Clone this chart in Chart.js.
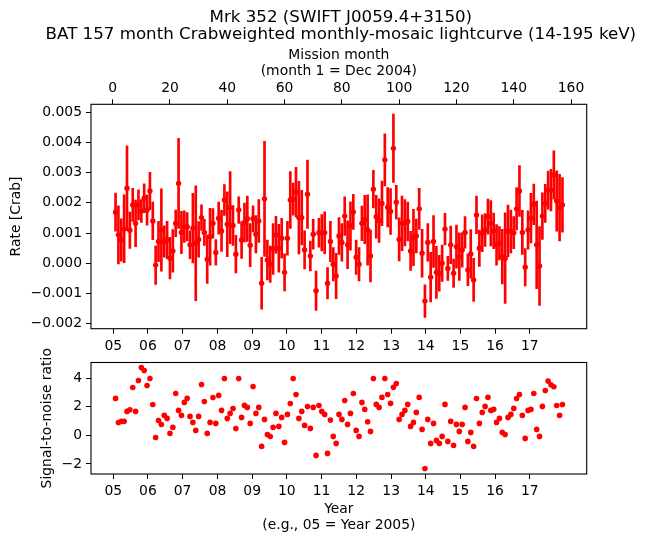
<!DOCTYPE html>
<html>
<head>
<meta charset="utf-8">
<script src="https://cdn.jsdelivr.net/npm/chart.js@4.4.1/dist/chart.umd.min.js"></script>
<style>
  body { margin: 0; background: #ffffff; }
  #wrap { position: relative; width: 646px; height: 543px; }
  #wrap canvas { position: absolute; left: 0; top: 0; }
</style>
</head>
<body>
<div id="wrap">
  <canvas id="rateChart" width="646" height="543"></canvas>
  <canvas id="snrChart" width="646" height="543"></canvas>
</div>
<script>
// mission months 1..157 (month 1 = Dec 2004)
const months = Array.from({ length: 157 }, (_, i) => i + 1);

// rate in units of 1e-3 Crab
const rateMilli = [
  1.69, 0.94, 0.77, 1.13, 2.48, 1.09, 1.93, 1.32, 1.93, 1.73,
  2.15, 1.76, 2.39, 1.40, -0.06, 0.72, 1.10, 0.72, 0.77, 0.17,
  0.41, 1.32, 2.64, 1.02, 1.21, 1.21, 0.61, 1.16, 0.66, 0.79,
  1.51, 1.02, 0.13, 0.88, 1.32, 0.36, 1.49, 1.07, 2.09, 1.29,
  1.84, 1.25, 0.30, 1.76, 0.77, 1.35, 1.47, 0.60, 1.47, 0.96,
  1.40, -0.66, 2.13, 0.11, -0.03, 0.47, 0.94, 0.50, 0.83, -0.30,
  0.83, 2.09, 2.12, 2.35, 1.51, 1.51, 0.44, 2.28, 0.24, 0.96,
  -0.91, 1.01, 1.01, 1.01, -0.66, 0.72, -0.03, -0.42, 0.90, 0.69,
  1.56, 0.61, 1.23, 1.70, 0.20, -0.03, 1.32, 1.45, 1.10, 0.24,
  2.45, 1.54, 1.41, 1.98, 3.42, 1.85, 1.71, 3.80, 2.02, 0.79,
  1.32, 1.34, 1.38, 0.41, 0.85, 0.90, 1.80, 0.33, -1.25, 0.69,
  -0.46, 0.72, -0.30, -0.33, 0.00, 1.13, -0.17, 0.61, -0.33, 0.55,
  0.22, 0.44, 1.02, -0.22, 0.31, -0.55, 1.60, 0.50, 0.99, 1.10,
  1.54, 1.32, 1.07, 0.61, 0.66, 0.22, 0.17, 1.07, 1.05, 1.01,
  1.80, 2.39, 1.02, -0.13, 1.10, 1.49, 1.95, 0.61, -0.09, 1.56,
  1.98, 2.42, 2.42, 2.92, 2.06, 1.84, 1.93
];

// 1-sigma error in units of 1e-3 Crab
const errMilli = [
  0.63, 0.96, 0.70, 1.13, 1.40, 0.60, 0.55, 0.77, 0.50, 0.38,
  0.48, 0.50, 0.62, 0.62, 0.64, 0.67, 1.36, 0.52, 0.62, 0.69,
  0.70, 0.44, 1.49, 0.70, 0.52, 0.47, 0.46, 1.15, 1.90, 0.59,
  0.42, 0.43, 0.80, 0.94, 0.49, 0.42, 0.53, 0.68, 0.51, 1.07,
  1.19, 0.66, 0.62, 0.44, 0.61, 0.64, 0.75, 0.71, 0.43, 0.62,
  0.71, 0.86, 1.90, 0.66, 0.60, 0.84, 0.61, 0.79, 0.66, 0.61,
  0.56, 0.94, 0.53, 0.82, 1.20, 0.90, 0.63, 1.13, 0.49, 0.49,
  0.65, 0.48, 0.60, 0.69, 0.52, 0.67, 0.55, 0.75, 0.61, 0.62,
  0.64, 0.79, 0.80, 0.58, 0.57, 0.55, 0.57, 0.80, 1.16, 0.86,
  0.62, 0.71, 0.72, 0.74, 0.86, 0.65, 0.76, 1.13, 0.56, 0.71,
  0.90, 0.77, 0.64, 0.65, 0.93, 0.56, 0.68, 0.79, 0.54, 0.62,
  0.82, 0.86, 0.86, 0.59, 0.60, 0.52, 0.40, 0.62, 0.47, 0.71,
  0.79, 0.57, 0.52, 0.52, 0.80, 0.71, 0.62, 0.60, 0.61, 0.54,
  0.58, 0.75, 0.59, 0.67, 0.55, 0.90, 1.50, 0.85, 0.71, 0.53,
  0.70, 0.84, 0.73, 0.62, 0.63, 0.82, 0.67, 1.45, 1.30, 0.77,
  0.63, 0.63, 0.69, 0.80, 1.00, 1.10, 0.90
];

// signal-to-noise ratio
const snr = [
  2.59, 0.90, 0.98, 0.98, 1.68, 1.79, 3.35, 1.68, 3.84, 4.75,
  4.54, 3.49, 3.98, 2.16, -0.15, 1.04, 0.76, 1.40, 1.19, 0.14,
  0.56, 2.93, 1.75, 1.40, 2.31, 2.59, 1.33, 0.91, 0.35, 1.33,
  3.56, 2.37, 0.14, 0.91, 2.65, 0.84, 2.80, 1.75, 3.98, 1.19,
  1.54, 1.88, 0.48, 3.98, 1.26, 2.10, 1.96, 0.84, 3.42, 1.54,
  1.96, -0.77, 1.12, 0.06, -0.08, 0.56, 1.54, 0.63, 1.26, -0.49,
  1.47, 2.23, 3.98, 2.86, 1.19, 1.68, 0.70, 2.02, 0.49, 1.96,
  -1.40, 2.09, 1.68, 1.47, -1.26, 1.07, -0.07, -0.56, 1.47, 1.12,
  2.44, 0.77, 1.54, 2.93, 0.35, -0.07, 2.31, 1.82, 0.95, 0.28,
  3.98, 2.17, 1.96, 2.66, 3.98, 2.86, 2.24, 3.36, 3.63, 1.12,
  1.47, 1.75, 2.17, 0.63, 0.91, 1.61, 2.66, 0.42, -2.31, 1.12,
  -0.56, 0.84, -0.35, -0.56, -0.07, 2.17, -0.42, 0.98, -0.70, 0.77,
  0.28, 0.77, 1.96, -0.42, 0.21, -0.77, 2.58, 0.84, 1.61, 2.03,
  2.66, 1.75, 1.82, 0.91, 1.19, 0.21, 0.06, 1.26, 1.47, 1.89,
  2.58, 2.86, 1.40, -0.21, 1.75, 1.82, 2.93, 0.42, -0.07, 2.03,
  3.14, 3.80, 3.54, 3.40, 2.09, 1.40, 2.16
];

// tick labels
const rateTicks = [-0.002, -0.001, 0, 0.001, 0.002, 0.003, 0.004, 0.005];
const snrTicks = [-2, 0, 2, 4];
const monthTicks = [0, 20, 40, 60, 80, 100, 120, 140, 160];
const yearLabels = ['05', '06', '07', '08', '09', '10', '11', '12', '13', '14', '15', '16', '17'];
const yearTickMonths = [0.2, 12.3, 24.4, 36.6, 48.7, 60.8, 72.9, 85.0, 97.2, 109.3, 121.4, 133.5, 145.6];

const RED = '#ff0000';
const FONT = 'DejaVu Sans';
const tickFont = { family: FONT, size: 13.9 };
const X_MIN = -7.57;
const X_MAX = 165.47;

function minusSign(s) {
	return s.replace('-', '\u2212');
}

function fixedTicks(values) {
	return function (scale) {
		scale.ticks = values.map(v => ({ value: v }));
	};
}

function tickGrid() {
	return {
		display: true,
		drawOnChartArea: false,
		drawTicks: true,
		tickLength: 5,
		tickWidth: 1,
		tickColor: '#000000'
	};
}

const framePlugin = {
	id: 'frame',
	afterDraw(chart) {
		const a = chart.chartArea;
		const ctx = chart.ctx;
		ctx.save();
		ctx.strokeStyle = '#000000';
		ctx.lineWidth = 1.1;
		ctx.strokeRect(a.left, a.top, a.right - a.left, a.bottom - a.top);
		ctx.restore();
	}
};

function drawText(ctx, text, x, y, size, rotate) {
	ctx.save();
	ctx.translate(x, y);
	if (rotate) ctx.rotate(-Math.PI / 2);
	ctx.font = size + 'px "' + FONT + '"';
	ctx.fillStyle = '#000000';
	ctx.textAlign = 'center';
	ctx.textBaseline = 'middle';
	ctx.fillText(text, 0, 0);
	ctx.restore();
}

const rateLabels = {
	id: 'rateLabels',
	afterDraw(chart) {
		const ctx = chart.ctx;
		const cx = (chart.chartArea.left + chart.chartArea.right) / 2;
		drawText(ctx, 'Mrk 352 (SWIFT J0059.4+3150)', cx + 2, 17.5, 16.67);
		drawText(ctx, 'BAT 157 month Crabweighted monthly-mosaic lightcurve (14-195 keV)', cx + 2, 34.5, 16.67);
		drawText(ctx, 'Mission month', cx, 55, 13.9);
		drawText(ctx, '(month 1 = Dec 2004)', cx, 71.5, 13.9);
		drawText(ctx, 'Rate [Crab]', 16, (chart.chartArea.top + chart.chartArea.bottom) / 2, 13.9, true);
	}
};

const snrLabels = {
	id: 'snrLabels',
	afterDraw(chart) {
		const ctx = chart.ctx;
		const cx = (chart.chartArea.left + chart.chartArea.right) / 2;
		drawText(ctx, 'Signal-to-noise ratio', 47, (chart.chartArea.top + chart.chartArea.bottom) / 2, 13.9, true);
		drawText(ctx, 'Year', cx, 509, 13.9);
		drawText(ctx, '(e.g., 05 = Year 2005)', cx, 525.5, 13.9);
	}
};

const yearAxis = {
	type: 'linear',
	position: 'bottom',
	min: X_MIN,
	max: X_MAX,
	offset: false,
	afterBuildTicks: fixedTicks(yearTickMonths),
	ticks: {
		autoSkip: false,
		maxRotation: 0,
		padding: 4,
		color: '#000000',
		font: tickFont,
		callback: function (value) {
			return yearLabels[yearTickMonths.indexOf(value)];
		}
	},
	grid: Object.assign(tickGrid(), { offset: false }),
	border: { display: false }
};

new Chart(document.getElementById('rateChart'), {
	type: 'scatter',
	data: {
		datasets: [{
			label: 'Rate',
			data: months.map((m, i) => ({ x: m, y: rateMilli[i] * 1e-3 })),
			backgroundColor: RED,
			borderWidth: 0,
			pointRadius: 2.7,
			pointHoverRadius: 2.7
		}, {
			type: 'bar',
			label: 'Error',
			data: months.map((m, i) => ({
				x: m,
				y: [(rateMilli[i] - errMilli[i]) * 1e-3, (rateMilli[i] + errMilli[i]) * 1e-3]
			})),
			backgroundColor: RED,
			borderWidth: 0,
			barThickness: 2,
			grouped: false
		}]
	},
	options: {
		responsive: false,
		animation: false,
		devicePixelRatio: 1,
		layout: { padding: { left: 0, right: 59.3, top: 0, bottom: 0 } },
		plugins: {
			legend: { display: false },
			tooltip: { enabled: false }
		},
		scales: {
			x: Object.assign({}, yearAxis, {
				afterFit: function (scale) { scale.height = 543 - 328.7; }
			}),
			xTop: {
				type: 'linear',
				position: 'top',
				min: X_MIN,
				max: X_MAX,
				afterBuildTicks: fixedTicks(monthTicks),
				afterFit: function (scale) { scale.height = 104.3; },
				ticks: {
					autoSkip: false,
					maxRotation: 0,
					padding: 2.5,
					color: '#000000',
					font: tickFont
				},
				grid: tickGrid(),
				border: { display: false }
			},
			y: {
				type: 'linear',
				position: 'left',
				min: -0.002163,
				max: 0.005256,
				afterBuildTicks: fixedTicks(rateTicks),
				afterFit: function (scale) { scale.width = 91; },
				ticks: {
					padding: 4,
					color: '#000000',
					font: tickFont,
					callback: function (value) { return minusSign(value.toFixed(3)); }
				},
				grid: tickGrid(),
				border: { display: false }
			}
		}
	},
	plugins: [framePlugin, rateLabels]
});

new Chart(document.getElementById('snrChart'), {
	type: 'scatter',
	data: {
		datasets: [{
			label: 'SNR',
			data: months.map((m, i) => ({ x: m, y: snr[i] })),
			backgroundColor: RED,
			borderWidth: 0,
			pointRadius: 2.8,
			pointHoverRadius: 2.8
		}]
	},
	options: {
		responsive: false,
		animation: false,
		devicePixelRatio: 1,
		layout: { padding: { left: 0, right: 59.3, top: 362.5, bottom: 0 } },
		plugins: {
			legend: { display: false },
			tooltip: { enabled: false }
		},
		scales: {
			x: Object.assign({}, yearAxis, {
				afterFit: function (scale) { scale.height = 543 - 474; }
			}),
			y: {
				type: 'linear',
				position: 'left',
				min: -2.70,
				max: 5.10,
				afterBuildTicks: fixedTicks(snrTicks),
				afterFit: function (scale) { scale.width = 91; },
				ticks: {
					padding: 4,
					color: '#000000',
					font: tickFont,
					callback: function (value) { return minusSign(String(value)); }
				},
				grid: tickGrid(),
				border: { display: false }
			}
		}
	},
	plugins: [framePlugin, snrLabels]
});
</script>
</body>
</html>
